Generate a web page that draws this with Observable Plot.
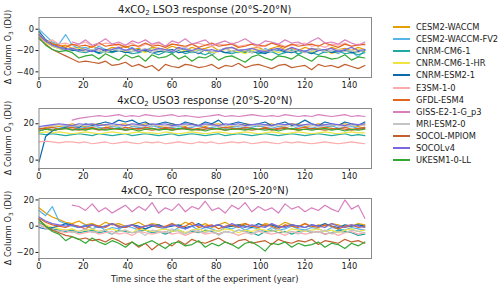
<!DOCTYPE html>
<html><head><meta charset="utf-8">
<script src="https://cdn.jsdelivr.net/npm/d3@7"></script>
<script src="https://cdn.jsdelivr.net/npm/@observablehq/plot@0.6"></script>
<style>
body{margin:0;background:#fff;}
#wrap{position:relative;width:500px;height:289px;font-family:"DejaVu Sans",sans-serif;overflow:hidden;color:#1a1a1a}
.t{position:absolute;white-space:nowrap;line-height:12px;transform:translate(-50%,-50%)}
.sub{font-size:70%;vertical-align:-0.3em;line-height:0}
.yl{position:absolute;white-space:nowrap;font-size:8.3px;line-height:10px;transform:translate(-50%,-50%) rotate(-90deg)}
.pl{position:absolute;left:0}
.pl svg{overflow:visible}
#leg{position:absolute;left:0;top:0}
</style></head>
<body><div id="wrap"></div>
<script>
const STEP = 3;
const models = ["CESM2-WACCM","CESM2-WACCM-FV2","CNRM-CM6-1","CNRM-CM6-1-HR","CNRM-ESM2-1","E3SM-1-0","GFDL-ESM4","GISS-E2-1-G_p3","MRI-ESM2-0","SOCOL-MPIOM","SOCOLv4","UKESM1-0-LL"];
const colors = ["#e69f00","#56b4e9","#1fa99f","#f0e442","#0b6aad","#ffaaaa","#e0661e","#d880bf","#c4c4c4","#c0602f","#7a68e0","#33a833"];
const xTicks = [0,20,40,60,80,100,120,140];
const N = null;

// LSO3 panel
const lso3 = [
[-3,-10,-13,-16,-15,-18,-17,-19,-16,-18,-20,-17,-18,-16,-19,-18,-21,-17,-18,-19,-16,-18,-20,-17,-19,-18,-16,-20,-18,-17,-19,-21,-18,-17,-20,-18,-16,-19,-18,-20,-17,-19,-18,-21,-17,-19,-18,-20,-17,-19],
[0,-6,-12,-14,-5,-15,-18,-17,-20,-16,-19,-21,-18,-20,-17,-22,-19,-18,-21,-20,-23,-19,-18,-22,-20,-19,-24,-20,-18,-21,-22,-19,-20,-23,-18,-21,-20,-22,-19,-24,-20,-21,-18,-22,-20,-23,-19,-21,-26,-20],
[-5,-12,-16,-18,-20,-19,-21,-22,-20,-23,-21,-22,-20,-21,-23,-22,-20,-22,-24,-21,-22,-20,-23,-21,-22,-24,-21,-20,-22,-23,-21,-22,-20,-23,-22,-21,-24,-22,-20,-23,-21,-22,-24,-21,-22,-20,-23,-22,-24,-22],
[-6,-13,-16,-18,-19,-20,-18,-21,-19,-20,-22,-19,-20,-21,-19,-20,-22,-18,-21,-20,-19,-22,-20,-21,-19,-20,-22,-21,-19,-20,-21,-23,-20,-19,-21,-20,-22,-19,-21,-20,-22,-21,-19,-20,-23,-21,-20,-22,-19,-21],
[-2,-10,-14,-17,-18,-20,-19,-21,-20,-22,-19,-21,-20,-22,-21,-19,-20,-22,-21,-20,-19,-22,-21,-20,-23,-19,-21,-20,-22,-21,-19,-20,-22,-21,-23,-20,-19,-21,-22,-20,-21,-23,-20,-19,-22,-21,-20,-22,-21,-20],
[-8,-12,-10,-14,-13,-15,-14,-12,-16,-15,-13,-14,-16,-15,-13,-17,-14,-15,-13,-16,-14,-15,-17,-14,-13,-15,-16,-14,-15,-13,-16,-15,-14,-17,-15,-13,-14,-16,-15,-14,-13,-16,-15,-17,-14,-15,-13,-16,-14,-15],
[-6,-11,-14,-15,-17,-14,-16,-15,-17,-13,-16,-15,-14,-17,-15,-16,-13,-16,-15,-17,-14,-15,-16,-14,-17,-15,-13,-16,-15,-14,-17,-16,-14,-15,-16,-13,-15,-17,-14,-16,-15,-14,-16,-13,-15,-17,-14,-16,-15,-14],
[N,N,N,N,N,-12,-14,-10,-15,-13,-9,-14,-12,-15,-11,-13,-10,-14,-12,-16,-11,-13,-9,-14,-12,-10,-15,-13,-11,-14,-12,-9,-13,-15,-11,-12,-14,-10,-13,-12,-15,-11,-8,-13,-12,-14,-10,-13,-15,-12],
[-4,-11,-15,-17,-19,-18,-20,-21,-19,-20,-22,-18,-20,-19,-21,-20,-18,-22,-19,-20,-21,-19,-17,-20,-22,-19,-21,-20,-18,-21,-19,-20,-22,-20,-19,-21,-18,-20,-21,-19,-22,-20,-18,-21,-20,-19,-21,-20,-22,-19],
[-9,-14,-19,-22,-25,-28,-31,-30,-31,-32,-30,-34,-33,-31,-35,-33,-36,-34,-39,-33,-35,-36,-33,-34,-36,-35,-33,-37,-34,-35,-32,-36,-34,-33,-35,-37,-34,-33,-36,-35,-34,-38,-33,-35,-34,-36,-33,-35,-37,-34],
[-5,-11,-15,-17,-19,-18,-20,-19,-21,-18,-20,-19,-17,-20,-18,-21,-19,-20,-18,-19,-21,-17,-19,-20,-18,-20,-19,-21,-18,-17,-20,-19,-18,-20,-21,-19,-18,-20,-17,-19,-21,-18,-20,-19,-18,-21,-19,-17,-20,-19],
[-8,-15,-19,-21,-20,-22,-27,-25,-24,-28,-23,-26,-29,-24,-27,-25,-30,-24,-27,-26,-23,-28,-25,-30,-26,-27,-24,-29,-26,-25,-28,-31,-26,-24,-27,-29,-25,-26,-28,-24,-27,-30,-25,-26,-28,-27,-24,-29,-26,-27]
];

// USO3 panel
const uso3 = [
[17,18,19,18.5,19,20,19,18.5,19.5,20,19,18.5,19.5,20,18.5,19,20,19.5,18.5,19,20,19,18.5,20,19,18.5,19.5,20,19,18.5,19,20,19.5,18.5,19,20,18.5,19,20,19.5,18.5,19,20,19,18.5,19.5,20,19,18.5,19.5],
[16,17,18,17.5,18.5,18,17.5,18,19,18,17.5,18.5,18,17,18.5,18,17.5,19,18,17.5,18,18.5,17.5,18,19,17.5,18,18.5,17.5,18,18.5,17.5,18,19,18,17.5,18.5,18,17,18.5,18,17.5,18.5,18,19,17.5,18,18.5,17.5,18],
[14.5,14,14.5,14,13.5,14,14.5,14,13.5,14.5,14,13.5,14,14.5,13.5,14,14.5,14,13.5,14,14.5,13.5,14,14.5,14,13.5,14,14.5,13.5,14,14.5,14,13.5,14,14.5,14,13.5,14,14.5,14,13.5,14,14.5,14,13.5,14,14.5,13.5,14,13.5],
[15,15.5,15,15.5,15,14.5,15,15.5,15,14.5,15,15.5,15,14.5,15,15.5,15,15,14.5,15.5,15,14.5,15,15.5,15,14.5,15,15.5,15,14.5,15,15.5,15,14.5,15,15.5,15,14.5,15,15.5,15,14.5,15,15.5,15,14.5,15,15.5,15,15],
[-1,13,16,17,18,19,18,20,19,20,21,20,22,21,22,20,21,19,20,21,20,19,21,20,19,21,20,22,19,20,21,20,19,20,21,19,20,21,19,20,22,20,19,21,20,19,21,20,19,21],
[10,10.5,10,9.5,10,10,9.5,10,9,9.5,10,9,9.5,10,9.5,9,10,9.5,10,9,9.5,10,9.5,9,10,9.5,10,9,9.5,10,9.5,10,9,9.5,10,9.5,9,10,9.5,10,9.5,9,9.5,10,9.5,9,9.5,10,9.5,9],
[17,17.5,18,17,17.5,18,17,17.5,18,17,18,17.5,17,18,17.5,17,18,17.5,17,18,17.5,17,18,17,17.5,18,17,17.5,18,17.5,17,18,17.5,17,18,17,17.5,18,17,17.5,18,17,17.5,18,17.5,17,18,17,17.5,18],
[N,N,N,N,N,22,23,23.5,24,24.5,24,24.5,25,24,24.5,24,25,24.5,24,24.5,25,24,24.5,24,23.5,24,24.5,25,24,24.5,24,24.5,25,24.5,24,24.5,24,25,24.5,24,24.5,24,25,24.5,24,24.5,25,24,24.5,24],
[18,18.5,19,19.5,19,18.5,19,19.5,18.5,19,19.5,19,18.5,19,19.5,19,18.5,19,19.5,19,18.5,19,19.5,18.5,19,19.5,19,18.5,19,19.5,19,18.5,19,19.5,19,18.5,19.5,19,18.5,19,19.5,19,18.5,19,19.5,19,18.5,19,19.5,19],
[17.5,17,16.5,17,17.5,17,16.5,17,17.5,16.5,17,17.5,17,16.5,17,17.5,17,16.5,17,17.5,16.5,17,17.5,17,16.5,17,17.5,17,16.5,17,17.5,17,16.5,17,17.5,16.5,17,17.5,17,16.5,17,17.5,17,16.5,17,17.5,17,16.5,17,17.5],
[18.5,19,19.5,20,19.5,19,20,19.5,20,19,19.5,20,19.5,19,20,19.5,19,20,19.5,20,19,19.5,20,19.5,19,20,19.5,19,20,19.5,20,19,19.5,20,19.5,19,20,19.5,20,19,19.5,20,19,19.5,20,19.5,19,20,19.5,20],
[16,17,16.5,17,17.5,16.5,17,16.5,17.5,17,16.5,17,17.5,16.5,17,16,17,17.5,16.5,17,16.5,17.5,17,16.5,17,16,17,17.5,16.5,17,17,16.5,17.5,17,16.5,17,16,17,17.5,16.5,17,16.5,17,17.5,16.5,17,16,17,16.5,17]
];

// TCO panel
const tco = [
[14,10,7,5,3,2,4,1,2,0,3,1,2,0,1,3,0,2,1,-1,2,0,3,1,0,2,-1,1,3,0,1,2,0,-1,2,1,0,3,1,0,2,-1,1,0,2,1,-1,0,2,1],
[12,8,15,4,2,0,-1,1,-2,0,-3,-1,-2,0,-1,-3,-2,0,-1,-2,-4,-1,-2,0,-3,-1,-2,-4,-1,-2,0,-3,-1,-2,-4,-1,-3,-2,0,-2,-3,-1,-2,-4,-1,-2,-3,-1,-2,-3],
[3,0,-2,-3,-4,-3,-5,-4,-3,-5,-4,-6,-3,-4,-5,-4,-3,-5,-4,-6,-4,-3,-5,-4,-5,-3,-4,-6,-4,-5,-3,-4,-5,-7,-4,-3,-5,-4,-6,-4,-3,-5,-4,-6,-5,-3,-4,-5,-7,-6],
[4,1,-1,-2,-3,-2,-4,-3,-2,-4,-3,-2,-4,-3,-5,-2,-3,-4,-3,-2,-4,-3,-5,-3,-2,-4,-3,-4,-2,-3,-5,-3,-4,-2,-3,-4,-3,-5,-2,-3,-4,-3,-2,-4,-3,-5,-3,-2,-4,-3],
[-1,-2,-1,0,2,1,-1,0,1,-1,0,2,0,-1,1,0,-2,0,1,-1,0,1,-1,0,2,-1,0,1,-1,0,1,0,-1,2,0,1,-1,0,1,0,-1,1,0,2,0,-1,1,0,1,0],
[2,-1,-3,-4,-5,-4,-6,-5,-4,-6,-5,-4,-6,-5,-7,-4,-5,-6,-5,-4,-6,-5,-7,-5,-4,-6,-5,-6,-4,-5,-7,-5,-6,-4,-5,-6,-5,-7,-4,-5,-6,-5,-4,-6,-5,-7,-5,-4,-6,-5],
[6,3,1,0,-1,1,0,-2,1,0,-1,2,0,-1,1,-2,0,1,-1,0,2,-1,0,3,-1,0,1,-2,0,1,-1,2,0,-1,1,0,-2,1,0,-1,2,0,-1,1,0,-2,0,1,-1,0],
[N,N,N,N,N,16,15,12,17,11,14,10,13,16,11,15,12,18,10,14,12,17,11,15,13,19,12,14,10,16,13,18,11,15,12,14,10,17,13,15,11,14,12,16,13,11,20,13,16,6],
[1,-2,-3,-4,-3,-5,-4,-2,-5,-4,-3,-6,-4,-3,-5,-4,-7,-3,-4,-5,-2,-4,-6,-3,-4,-5,-3,-7,-4,-5,-3,-4,-6,-3,-5,-4,-2,-5,-4,-6,-3,-4,-5,-3,-6,-4,-5,-3,-4,-5],
[5,0,-3,-5,-7,-8,-10,-9,-11,-10,-12,-9,-11,-14,-12,-16,-13,-18,-14,-12,-15,-11,-14,-10,-12,-13,-11,-9,-12,-14,-11,-10,-13,-12,-11,-14,-10,-12,-13,-11,-12,-10,-14,-11,-12,-13,-10,-12,-11,-13],
[7,4,2,1,0,1,-1,0,1,-1,0,2,-1,0,1,-1,0,1,0,-1,1,0,-2,0,1,-1,0,1,-1,2,0,-1,1,0,-1,2,0,-1,1,0,-1,1,0,-1,2,0,-1,1,0,-1],
[5,0,-4,-6,-11,-8,-10,-13,-9,-12,-14,-11,-13,-16,-12,-15,-13,-11,-14,-17,-13,-12,-15,-14,-11,-16,-13,-15,-12,-14,-17,-13,-12,-15,-19,-13,-14,-12,-16,-13,-15,-14,-12,-16,-13,-14,-17,-13,-15,-12]
];

const panels = [
  {name:"LSO3", data:lso3, domain:[-45.3,11], ticks:[-40,-20,0], frameTop:17.3, titleY:10},
  {name:"USO3", data:uso3, domain:[-4.6,28.4], ticks:[0,20], frameTop:108.3, titleY:101},
  {name:"TCO", data:tco, domain:[-24.6,21.1], ticks:[-20,0,20], frameTop:198.3, titleY:191}
];

const wrap = document.getElementById("wrap");
const FL = 38.5, FR = 371, FH = 60, MT = 2, MB = 20;
const cx = (FL+FR)/2;

panels.forEach(p => {
  const rows = [];
  models.forEach((m,k) => p.data[k].forEach((v,i) => { if (v != null) rows.push({model:m, year:i*STEP, value:v}); }));
  const chart = Plot.plot({
    width: FR + 9, height: MT + FH + MB,
    marginLeft: FL, marginRight: 9, marginTop: MT, marginBottom: MB,
    style: {fontFamily:"DejaVu Sans, sans-serif", fontSize:"8.3px", color:"#1a1a1a", background:"transparent"},
    x: {domain:[0,150], ticks:xTicks, label:null, tickSize:3, tickPadding:2},
    y: {domain:p.domain, ticks:p.ticks, label:null, tickSize:3, tickPadding:2},
    color: {domain:models, range:colors},
    marks: [
      Plot.line(rows, {x:"year", y:"value", z:"model", stroke:"model", strokeWidth:1.2}),
      Plot.frame({stroke:"#8a8a8a", strokeWidth:1})
    ]
  });
  const d = document.createElement("div");
  d.className = "pl";
  d.style.top = (p.frameTop - MT) + "px";
  d.appendChild(chart);
  wrap.appendChild(d);

  const t = document.createElement("div");
  t.className = "t";
  t.style.left = cx + "px"; t.style.top = p.titleY + "px"; t.style.fontSize = "10px";
  t.innerHTML = '4xCO<span class="sub">2</span> ' + p.name + ' response (20°S-20°N)';
  wrap.appendChild(t);

  const yl = document.createElement("div");
  yl.className = "yl";
  yl.style.left = "8.3px"; yl.style.top = (p.frameTop + FH/2) + "px";
  yl.innerHTML = 'Δ Column O<span class="sub">3</span> (DU)';
  wrap.appendChild(yl);
});

const xl = document.createElement("div");
xl.className = "t";
xl.style.left = cx + "px"; xl.style.top = "279.3px"; xl.style.fontSize = "8.3px";
xl.textContent = "Time since the start of the experiment (year)";
wrap.appendChild(xl);

// legend as SVG
const leg = d3.select(wrap).append("svg").attr("id","leg").attr("width",500).attr("height",289);
models.forEach((m,i) => {
  const y = Math.round(27 + 12.1*i);
  leg.append("rect").attr("x",393).attr("width",17).attr("y",y-1).attr("height",2)
    .attr("fill",colors[i]);
  leg.append("text").attr("x",416).attr("y",y).attr("dy","0.35em")
    .attr("font-family","DejaVu Sans, sans-serif").attr("font-size","8.3px").attr("fill","#1a1a1a")
    .text(m);
});
</script>
</body></html>
